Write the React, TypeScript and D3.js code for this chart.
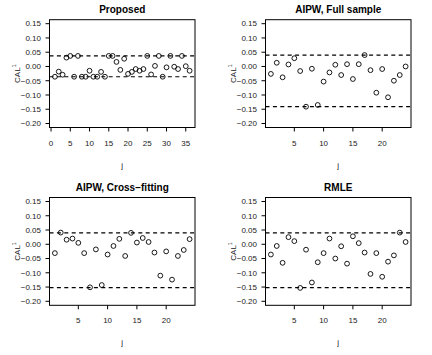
import React from 'react';
import * as d3 from 'd3';

// estimates, j = 1..n
const proposed = [
  -0.036, -0.018, -0.029, 0.031, 0.037, -0.036, 0.037, -0.036, -0.036, -0.015,
  -0.036, -0.036, -0.019, -0.036, 0.037, 0.037, 0.016, -0.012, 0.027, -0.026,
  -0.019, -0.009, -0.015, -0.009, 0.037, -0.028, 0.002, 0.037, -0.036, -0.003,
  0.037, -0.001, -0.009, 0.037, 0.001, -0.015,
];
const aipwFull = [
  -0.026, 0.013, -0.038, 0.007, 0.029, -0.016, -0.141, -0.008, -0.135, -0.053,
  -0.021, 0.006, -0.030, 0.008, -0.044, 0.008, 0.040, -0.013, -0.092, -0.009,
  -0.108, -0.050, -0.030, 0.000,
];
const aipwCross = [
  -0.031, 0.041, 0.016, 0.020, 0.005, -0.031, -0.151, -0.018, -0.143, -0.036,
  -0.006, 0.019, -0.041, 0.040, 0.006, 0.022, 0.008, -0.029, -0.110, -0.025,
  -0.124, -0.041, -0.020, 0.018,
];
const rmle = [
  -0.036, -0.006, -0.065, 0.025, 0.011, -0.153, -0.019, -0.134, -0.063, -0.031,
  0.020, -0.050, -0.007, -0.068, 0.028, 0.004, -0.029, -0.104, -0.031, -0.114,
  -0.061, -0.039, 0.041, 0.008,
];

const titles = ['Proposed', 'AIPW, Full sample', 'AIPW, Cross\u2212fitting', 'RMLE'];
const bounds = [
  [-0.036, 0.037],
  [-0.141, 0.040],
  [-0.152, 0.040],
  [-0.152, 0.040],
];
const yTicks = [0.15, 0.1, 0.05, 0, -0.05, -0.1, -0.15, -0.2];
const xTicksLong = [0, 5, 10, 15, 20, 25, 30, 35];
const xTicksShort = [5, 10, 15, 20];

const series = [proposed, aipwFull, aipwCross, rmle];

const fmtY = (v: number) => d3.format('.2f')(v).replace('-', '\u2212');

// R style: extend data range by 4% on each side
const pad = (lo: number, hi: number) => {
  const e = (hi - lo) * 0.04;
  return [lo - e, hi + e];
};

const boxX = [[49.5, 195], [265.5, 411]];
const boxY = [[19.7, 127.5], [197.5, 305.3]];

const font = 'Liberation Sans, Arial, Helvetica, sans-serif';

function Panel({ idx }: { idx: number }) {
  const data = series[idx];
  const col = idx % 2;
  const row = Math.floor(idx / 2);
  const [x0, x1] = boxX[col];
  const [y0, y1] = boxY[row];

  const x = d3.scaleLinear().domain(pad(1, data.length)).range([x0, x1]);
  const y = d3.scaleLinear().domain(pad(-0.2, 0.15)).range([y1, y0]);
  const xTicks = idx === 0 ? xTicksLong : xTicksShort;
  const cx = (x0 + x1) / 2;
  const cy = (y0 + y1) / 2;

  return (
    <g fill="#000">
      <text x={cx} y={y0 - 6.5} textAnchor="middle" fontSize={10} fontWeight="bold" fontFamily={font}>
        {titles[idx]}
      </text>
      {bounds[idx].map((b, i) => (
        <line key={i} x1={x0} x2={x1} y1={y(b)} y2={y(b)} stroke="#000" strokeWidth={1.2} strokeDasharray="4 3.4" />
      ))}
      {data.map((v, i) => (
        <circle key={i} cx={x(i + 1)} cy={y(v)} r={2.4} fill="none" stroke="#000" strokeWidth={0.9} />
      ))}
      <rect x={x0} y={y0} width={x1 - x0} height={y1 - y0} fill="none" stroke="#000" strokeWidth={1} />
      {yTicks.map((t) => (
        <g key={t}>
          <line x1={x0 - 4} x2={x0} y1={y(t)} y2={y(t)} stroke="#000" strokeWidth={1} />
          <text x={x0 - 8.5} y={y(t) + 2.8} textAnchor="end" fontSize={8} fontFamily={font} fill="#222">
            {fmtY(t)}
          </text>
        </g>
      ))}
      {xTicks.map((t) => (
        <g key={t}>
          <line x1={x(t)} x2={x(t)} y1={y1} y2={y1 + 4} stroke="#000" strokeWidth={1} />
          <text x={x(t)} y={y1 + 18} textAnchor="middle" fontSize={8} fontFamily={font} fill="#222">
            {t}
          </text>
        </g>
      ))}
      <text x={cx} y={y1 + 40} textAnchor="middle" fontSize={8} fontFamily={font} fill="#222">j</text>
      <text transform={`translate(${x0 - 29.5},${cy}) rotate(-90)`} textAnchor="middle" fontSize={8} fontFamily={font} fill="#222">
        CAL<tspan fontSize={5.5} dy={-4}>1</tspan>
      </text>
    </g>
  );
}

export default function App() {
  return (
    <svg width={432} height={355} style={{ position: 'absolute', left: 0, top: 0, background: '#fff' }}>
      {[0, 1, 2, 3].map((i) => (
        <Panel key={i} idx={i} />
      ))}
    </svg>
  );
}
